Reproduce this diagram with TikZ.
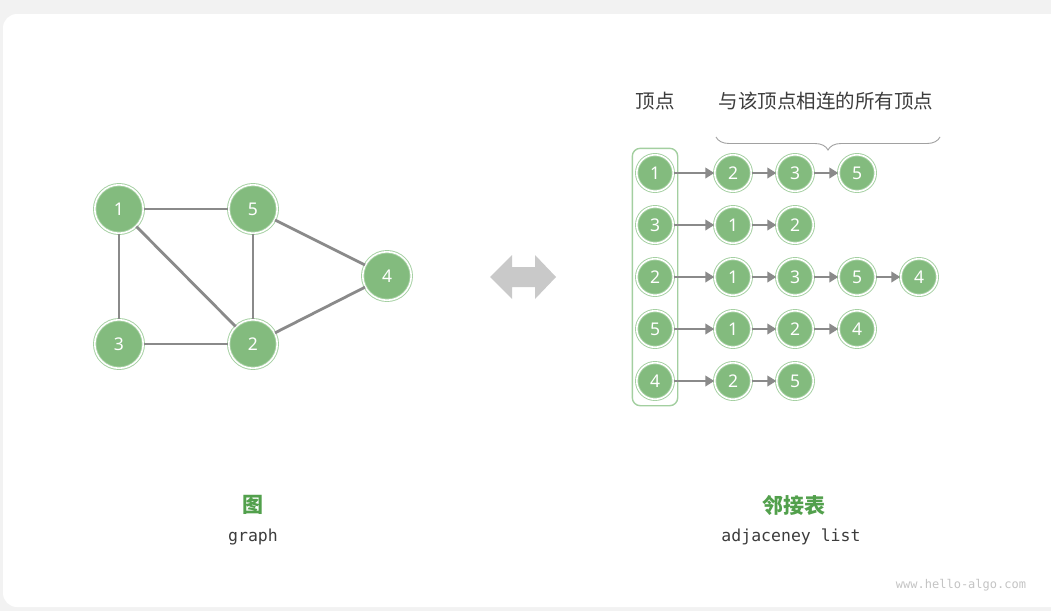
\documentclass[tikz,border=0pt]{standalone}
\usepackage{fontspec}
\setmainfont{Noto Sans}
\setmonofont{DejaVu Sans Mono}
\newfontfamily\cjk{Noto Sans CJK SC}
\usetikzlibrary{arrows.meta,decorations.pathreplacing,fit}
\definecolor{bgray}{HTML}{F2F2F2}
\definecolor{gfill}{HTML}{83BB7E}
\definecolor{gring}{HTML}{A3CFA0}
\definecolor{gtext}{HTML}{52A04C}
\definecolor{lgray}{HTML}{8A8A8A}
\definecolor{dgray}{HTML}{3C3C3C}
\definecolor{wgray}{HTML}{C4C4C4}
\definecolor{agray}{HTML}{C9C9C9}
\begin{document}
\begin{tikzpicture}[x=1pt,y=-1pt,
  gnode/.style={circle, fill=gfill, draw=gring, double=white, double distance=1.6pt, line width=0.9pt,
    minimum size=48.5pt, inner sep=0pt, text=white, font=\fontsize{17.5}{17.5}\selectfont},
  lnode/.style={gnode, minimum size=36.5pt},
  edge/.style={draw=lgray, line width=2.8pt},
  arr/.style={draw=lgray, line width=2.8pt, -{Triangle[length=9pt,width=10.5pt]}},
  head/.style={text=dgray, font=\cjk\fontsize{19.5}{19.5}\selectfont},
  ttl/.style={text=gtext, font=\cjk\bfseries\fontsize{21}{21}\selectfont},
  sub/.style={text=dgray, font=\ttfamily\fontsize{16.5}{16.5}\selectfont}]
\useasboundingbox (0,0) rectangle (1051,611);
\fill[bgray] (0,0) rectangle (1051,611);
\fill[white, rounded corners=14pt] (3,14) rectangle (1075,607);

% graph
\node[gnode] (g1) at (119,209) {1};
\node[gnode] (g5) at (253,209) {5};
\node[gnode] (g4) at (387,276) {4};
\node[gnode] (g3) at (119,344) {3};
\node[gnode] (g2) at (253,344) {2};
\draw[edge] (g1) -- (g5);
\draw[edge] (g1) -- (g3);
\draw[edge] (g1) -- (g2);
\draw[edge] (g5) -- (g2);
\draw[edge] (g5) -- (g4);
\draw[edge] (g3) -- (g2);
\draw[edge] (g2) -- (g4);

% double arrow
\fill[agray] (490,277) -- (512,255) -- (512,267) -- (535,267) -- (535,255) -- (556,277)
  -- (535,299) -- (535,287) -- (512,287) -- (512,299) -- cycle;

% adjacency list
\node[lnode] (v1) at (655,173) {1};
\node[lnode] (v2) at (655,225) {3};
\node[lnode] (v3) at (655,277) {2};
\node[lnode] (v4) at (655,329) {5};
\node[lnode] (v5) at (655,381) {4};
\node[draw=gring, line width=1.4pt, rounded corners=8pt, inner xsep=4pt, inner ysep=6pt, fit=(v1)(v5)] (col) {};

\node[lnode] (a1) at (733,173) {2};
\node[lnode] (a2) at (795,173) {3};
\node[lnode] (a3) at (857,173) {5};
\draw[arr] (v1) -- (a1);
\draw[arr] (a1) -- (a2);
\draw[arr] (a2) -- (a3);

\node[lnode] (b1) at (733,225) {1};
\node[lnode] (b2) at (795,225) {2};
\draw[arr] (v2) -- (b1);
\draw[arr] (b1) -- (b2);

\node[lnode] (c1) at (733,277) {1};
\node[lnode] (c2) at (795,277) {3};
\node[lnode] (c3) at (857,277) {5};
\node[lnode] (c4) at (919,277) {4};
\draw[arr] (v3) -- (c1);
\draw[arr] (c1) -- (c2);
\draw[arr] (c2) -- (c3);
\draw[arr] (c3) -- (c4);

\node[lnode] (d1) at (733,329) {1};
\node[lnode] (d2) at (795,329) {2};
\node[lnode] (d3) at (857,329) {4};
\draw[arr] (v4) -- (d1);
\draw[arr] (d1) -- (d2);
\draw[arr] (d2) -- (d3);

\node[lnode] (e1) at (733,381) {2};
\node[lnode] (e2) at (795,381) {5};
\draw[arr] (v5) -- (e1);
\draw[arr] (e1) -- (e2);

% headings
\node[head] (h1) at (655,101) {顶点};
\node[head] (h2) at (826,101) {与该顶点相连的所有顶点};
\coordinate (bl) at (716,137);
\coordinate (br) at (940,137);
\draw[lgray!80, line width=0.9pt, decorate, decoration={brace, amplitude=13pt, mirror}] (bl) -- (br);

% labels
\node[ttl] (t1) at (253,505) {图};
\node[sub] (s1) at (253,537) {graph};
\node[ttl] (t2) at (794,505) {邻接表};
\node[sub] (s2) at (791,537) {adjaceney list};
\node[text=wgray, font=\ttfamily\fontsize{12}{12}\selectfont] (wm) at (961,585) {www.hello-algo.com};
\end{tikzpicture}
\end{document}
